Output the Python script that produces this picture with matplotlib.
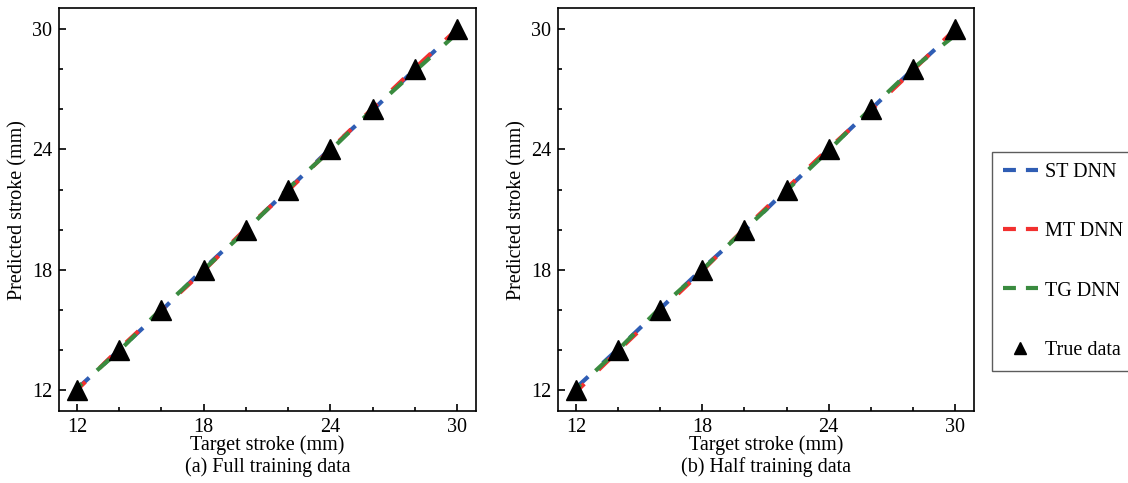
import numpy as np
import matplotlib.pyplot as plt
from matplotlib.ticker import MultipleLocator

plt.rcParams['font.family'] = ['Liberation Serif', 'DejaVu Serif']
plt.rcParams['mathtext.fontset'] = 'stix'

target = [12, 14, 16, 18, 20, 22, 24, 26, 28, 30]
true_data = [12, 14, 16, 18, 20, 22, 24, 26, 28, 30]

# panel (a) full training data
st_full = [12.05, 14.0, 15.95, 18.05, 20.0, 22.0, 24.05, 25.95, 28.0, 29.95]
mt_full = [12.0, 14.05, 16.0, 17.95, 20.05, 21.95, 24.0, 26.05, 28.05, 30.0]
tg_full = [12.1, 13.95, 16.05, 18.0, 19.95, 22.05, 23.95, 26.0, 27.9, 29.8]

# panel (b) half training data
st_half = [12.1, 14.05, 16.05, 18.05, 19.95, 22.0, 24.0, 26.0, 28.0, 29.9]
mt_half = [11.9, 13.95, 15.95, 17.95, 20.05, 22.05, 24.05, 25.95, 27.95, 30.0]
tg_half = [12.05, 14.0, 16.1, 18.0, 20.0, 21.95, 23.95, 26.05, 28.05, 29.7]

colors = {'ST DNN': '#2F5DB4', 'MT DNN': '#F2302F', 'TG DNN': '#3A8B3F'}
styles = {'ST DNN': (0, (4, 4.8)), 'MT DNN': (1.2, (4, 4.8)), 'TG DNN': (2.4, (4, 4.8))}
fs = 14.5

fig = plt.figure(figsize=(11.28, 4.83), dpi=100)
ax1 = fig.add_axes([0.0523, 0.149, 0.3697, 0.834])
ax2 = fig.add_axes([0.4947, 0.149, 0.3688, 0.834])

panels = [
    (ax1, st_full, mt_full, tg_full, '(a) Full training data'),
    (ax2, st_half, mt_half, tg_half, '(b) Half training data'),
]

for ax, st, mt, tg, cap in panels:
    for name, vals in zip(['ST DNN', 'MT DNN', 'TG DNN'], [st, mt, tg]):
        ax.plot(target, vals, color=colors[name], lw=3, ls=styles[name], label=name)
    ax.plot(target, true_data, '^', color='black', ms=15, ls='none', label='True data')
    ax.set_xlim(11.15, 30.9)
    ax.set_ylim(10.95, 31.05)
    ax.xaxis.set_major_locator(MultipleLocator(6))
    ax.yaxis.set_major_locator(MultipleLocator(6))
    ax.xaxis.set_minor_locator(MultipleLocator(2))
    ax.yaxis.set_minor_locator(MultipleLocator(2))
    ax.tick_params(which='both', direction='in', labelsize=fs, width=1.2)
    ax.tick_params(which='major', length=5, pad=5)
    ax.tick_params(which='minor', length=3)
    for s in ax.spines.values():
        s.set_linewidth(1.2)
    ax.set_xlabel('Target stroke (mm)', fontsize=fs, labelpad=-1)
    ax.set_ylabel('Predicted stroke (mm)', fontsize=fs, labelpad=3)
    ax.text(0.5, -0.139, cap, transform=ax.transAxes, ha='center', va='center', fontsize=fs)

handles, labels = ax2.get_legend_handles_labels()
leg = fig.legend(handles, labels, loc='center left', bbox_to_anchor=(0.879, 0.459),
                 fontsize=fs, frameon=True, fancybox=False, edgecolor='#333333',
                 labelspacing=2.0, handlelength=1.75, handletextpad=0.35, borderpad=0.55,
                 borderaxespad=0, markerscale=0.55)
leg.get_frame().set_linewidth(1.0)
for h in leg.get_lines()[:3]:
    h.set_linestyle((0, (3.1, 2.4)))

fig.savefig('out.png', dpi=100)
